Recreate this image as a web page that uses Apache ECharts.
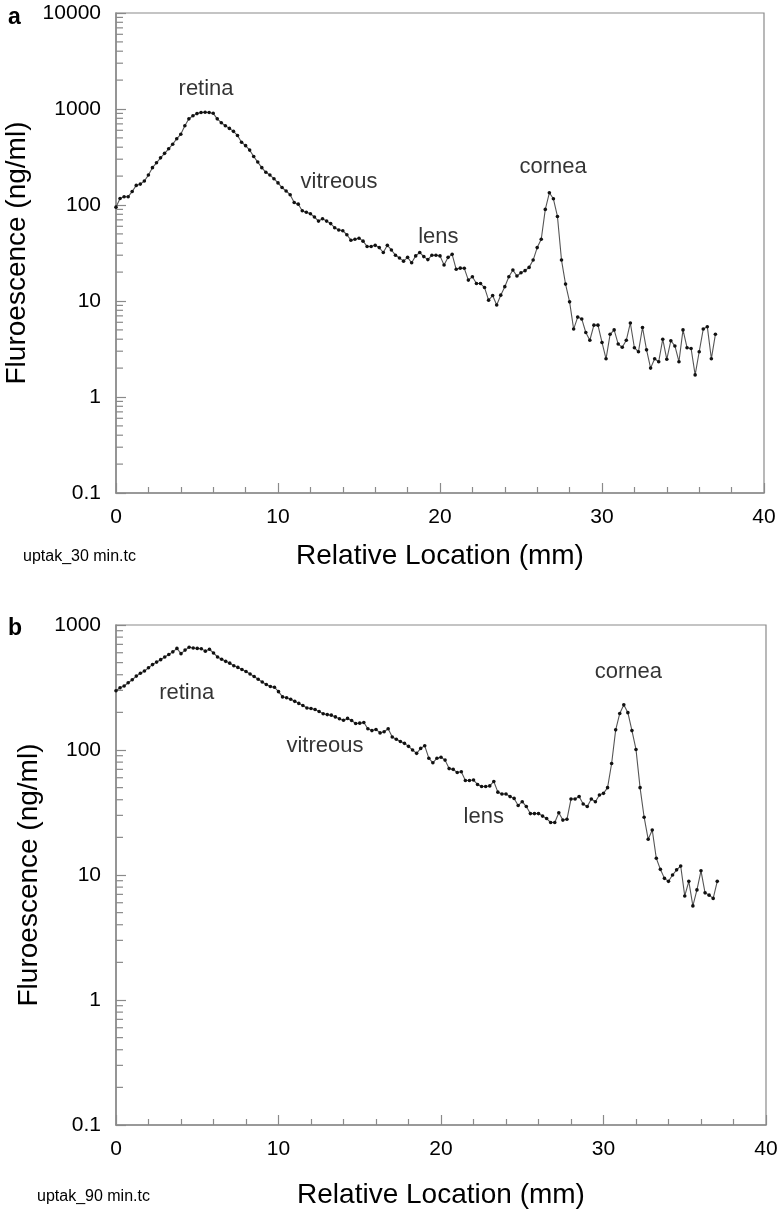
<!DOCTYPE html>
<html>
<head>
<meta charset="utf-8">
<script src="https://cdn.jsdelivr.net/npm/echarts@6/dist/echarts.min.js"></script>
<style>
html,body{margin:0;padding:0;background:#fff;}
#chart{width:781px;height:1210px;}
</style>
</head>
<body>
<div id="chart"></div>
<script>
// ---- data ----
var stepMM = 0.25; // scan sampling step (mm); locations are 0, 0.25, ... 37
var valuesA = [
 95,117,122,122,138,160,165,178,205,245,275,310,345,385,430,490,545,670,790,850,
 895,920,924,918,902,790,720,670,628,585,530,450,415,373,320,280,245,219,205,188,
 170,152,140,128,106,102,87,84,81,75,68,72,68,64,58,55,54,49,43,44,
 45,42,37,37,38,36,32,38,34,30,28,26,28.5,25,29.5,32,29,27,30,30,
 29.5,23.7,28.5,30.6,21.4,22,21.9,16.5,17.9,15.2,15.2,13.8,10.2,11.4,9.1,11.5,14.1,17.9,21,18.2,
 19.7,20.7,22.4,26.7,36,44,90,134,116,76,26.7,15,9.8,5.1,6.8,6.5,4.7,3.9,5.6,5.6,
 3.7,2.5,4.5,5.0,3.56,3.3,3.9,5.9,3.26,2.96,5.3,3.1,2.0,2.5,2.33,4.0,2.47,3.86,3.4,2.33,
 5.0,3.26,3.2,1.7,2.96,5.1,5.4,2.5,4.5
];
var valuesB = [
 298,315,325,345,365,390,411,428,455,482,505,528,555,580,610,650,590,630,664,655,
 650,645,618,640,597,555,532,512,495,472,458,440,425,405,387,368,350,334,322,318,
 293,266,262,255,245,236,227,217,215,211,203,195,192,190,184,178,173,179,172,163,
 164,166,148,143,146,137,140,148,127,122,117,113,107,100,94,103,108,86,79,86,
 87.5,83,71,70,66,67,57,57,57.5,53,51,51,51.6,56,46,44.5,44.5,42.4,41,36,
 38.6,35.3,31,31,31,29.6,28.3,26.3,26.3,31.5,27.5,27.9,40.5,40.5,42.4,37,35.3,40.5,38.6,43.6,
 45,50,78,145,196,230,199,143,101,50,29,19.3,22.9,13.6,11.1,9.4,8.9,10,11,11.8,
 6.8,8.9,5.66,7.6,10.8,7.2,6.9,6.5,8.9
];
var annotNames = ['retina', 'vitreous', 'lens', 'cornea'];
var annotA_x = [5.56, 13.77, 19.9, 26.98];
var annotA_y = [1620, 174, 46, 249];
var annotB_x = [4.35, 12.86, 22.63, 31.53];
var annotB_y = [285, 107, 29, 418];
var xTicks = [0, 10, 20, 30, 40];
var minorLogA = [0.2,0.3,0.4,0.5,0.6,0.7,0.8,0.9,2,3,4,5,6,7,8,9,20,30,40,50,60,70,80,90,200,300,400,500,600,700,800,900,2000,3000,4000,5000,6000,7000,8000,9000];
var minorLogB = [0.2,0.3,0.4,0.5,0.6,0.7,0.8,0.9,2,3,4,5,6,7,8,9,20,30,40,50,60,70,80,90,200,300,400,500,600,700,800,900];
var panelLabels = ['a', 'b'];
var fileNotes = ['uptak_30 min.tc', 'uptak_90 min.tc'];
var xTitle = 'Relative Location (mm)';
var yTitle = 'Fluroescence (ng/ml)';

// ---- build ----
var FONT = '"Liberation Sans", Arial, Helvetica, sans-serif';
var AXIS = '#8a8a8a';
var TXT = '#000';
function toPairs(vals) { return vals.map(function (v, i) { return [i * stepMM, v]; }); }
function annot(xs, ys) { return xs.map(function (x, i) { return [x, ys[i], annotNames[i]]; }); }
function fmtLog(v) { return String(parseFloat(Number(v).toPrecision(6))); }

function xAxisCfg(idx, gap) {
  return {
    gridIndex: idx, type: 'value', min: xTicks[0], max: xTicks[xTicks.length - 1], interval: 10,
    name: xTitle, nameLocation: 'middle', nameGap: gap,
    nameTextStyle: { fontSize: 28, color: TXT, fontFamily: FONT },
    axisLine: { lineStyle: { color: AXIS, width: 1.5 } },
    axisTick: { inside: true, length: 10, lineStyle: { color: AXIS, width: 1.2 } },
    minorTick: { show: true, splitNumber: 5, length: 6, lineStyle: { color: AXIS, width: 1.2 } },
    splitLine: { show: false },
    axisLabel: { fontSize: 21, color: TXT, margin: 14, fontFamily: FONT }
  };
}
function yAxisCfg(idx, max, gap) {
  return {
    gridIndex: idx, type: 'log', logBase: 10, min: 0.1, max: max,
    name: yTitle, nameLocation: 'middle', nameGap: gap, nameRotate: 90,
    nameTextStyle: { fontSize: 28, color: TXT, fontFamily: FONT },
    axisLine: { lineStyle: { color: AXIS, width: 1.5 } },
    axisTick: { inside: true, length: 10, lineStyle: { color: AXIS, width: 1.2 } },
    splitLine: { show: false },
    axisLabel: { fontSize: 21, color: TXT, margin: 15, fontFamily: FONT, formatter: fmtLog }
  };
}
function lineSeries(idx, vals) {
  return {
    type: 'line', xAxisIndex: idx, yAxisIndex: idx, data: toPairs(vals),
    symbol: 'circle', symbolSize: 3.6, showAllSymbol: true,
    itemStyle: { color: '#111' },
    lineStyle: { color: '#555', width: 1.1 },
    animation: false, silent: true, z: 3
  };
}
function annotSeries(idx, xs, ys) {
  return {
    type: 'scatter', xAxisIndex: idx, yAxisIndex: idx, data: annot(xs, ys),
    symbolSize: 0, silent: true, animation: false,
    itemStyle: { color: 'rgba(0,0,0,0)' },
    label: { show: true, position: 'inside', formatter: function (p) { return p.data[2]; },
      fontSize: 22, color: TXT, fontFamily: FONT, textBorderWidth: 0 }
  };
}
function minorSeries(idx, vals) {
  return {
    type: 'custom', xAxisIndex: idx, yAxisIndex: idx, silent: true, animation: false, clip: false,
    data: vals.map(function (v) { return [0, v]; }),
    encode: { x: 0, y: 1 },
    renderItem: function (params, api) {
      var p = api.coord([api.value(0), api.value(1)]);
      return { type: 'line', shape: { x1: p[0], y1: p[1], x2: p[0] + 7, y2: p[1] },
        style: { stroke: AXIS, lineWidth: 1.2 } };
    }
  };
}

var chart = echarts.init(document.getElementById('chart'), null, { renderer: 'canvas' });
chart.setOption({
  backgroundColor: '#fff',
  textStyle: { fontFamily: FONT },
  grid: [
    { left: 116, top: 13, width: 648, height: 480, show: true, borderColor: AXIS, borderWidth: 1.2,
      containLabel: false, outerBoundsMode: 'none' },
    { left: 116, top: 625, width: 650, height: 500, show: true, borderColor: AXIS, borderWidth: 1.2,
      containLabel: false, outerBoundsMode: 'none' }
  ],
  xAxis: [xAxisCfg(0, 49), xAxisCfg(1, 56)],
  yAxis: [yAxisCfg(0, 10000, 81), yAxisCfg(1, 1000, 72)],
  series: [
    minorSeries(0, minorLogA), minorSeries(1, minorLogB),
    lineSeries(0, valuesA), lineSeries(1, valuesB),
    annotSeries(0, annotA_x, annotA_y), annotSeries(1, annotB_x, annotB_y)
  ],
  graphic: [
    { type: 'text', left: 8, top: 6, style: { text: panelLabels[0], font: 'bold 23px ' + FONT, fill: TXT } },
    { type: 'text', left: 8, top: 617, style: { text: panelLabels[1], font: 'bold 23px ' + FONT, fill: TXT } },
    { type: 'text', left: 23, top: 549, style: { text: fileNotes[0], font: '16px ' + FONT, fill: TXT } },
    { type: 'text', left: 37, top: 1189, style: { text: fileNotes[1], font: '16px ' + FONT, fill: TXT } }
  ]
});
</script>
</body>
</html>
